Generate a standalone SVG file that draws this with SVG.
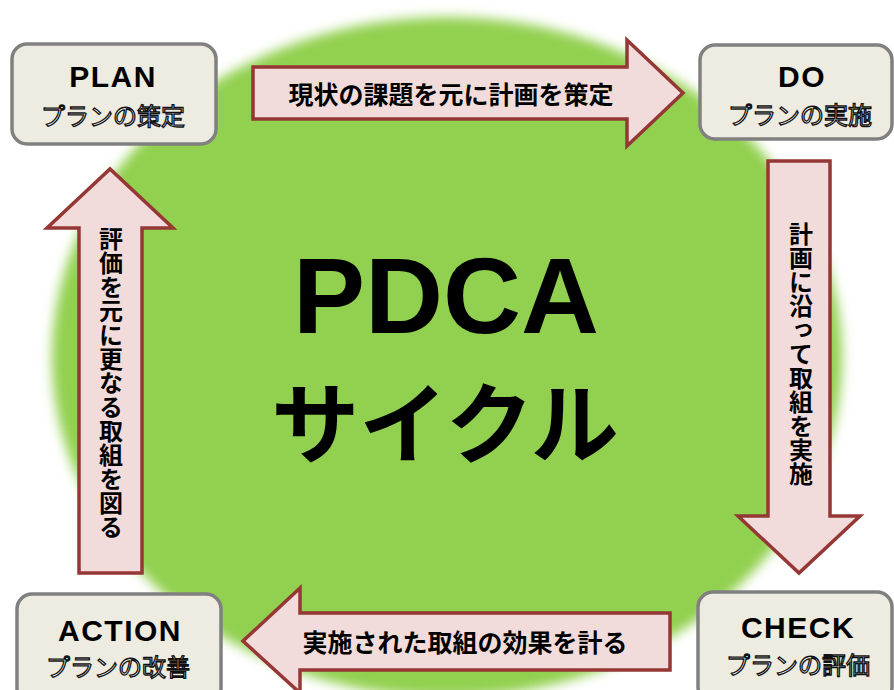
<svg xmlns="http://www.w3.org/2000/svg" width="894" height="690" viewBox="0 0 894 690">
<defs>
<filter id="soft" x="-10%" y="-10%" width="120%" height="120%"><feGaussianBlur stdDeviation="6"/></filter>
<style>
.box{fill:#eeece1;stroke:#808080;stroke-width:3.5}
.title{font-family:"Liberation Sans",Arial,sans-serif;font-weight:bold;font-size:30px;fill:#000;text-anchor:middle;letter-spacing:1.5px}
.sub{font-family:"Noto Sans CJK JP","Noto Sans",sans-serif;font-size:24px;fill:#fff;stroke:#111;stroke-width:1.3;text-anchor:middle}
.arrow{fill:#f2dcdb;stroke:#953735;stroke-width:3.5;stroke-linejoin:miter}
.lab{font-family:"Noto Sans CJK JP",sans-serif;font-weight:bold;font-size:25px;fill:#000;text-anchor:middle}
.vlab{font-family:"Noto Sans CJK JP",sans-serif;font-weight:bold;font-size:24px;fill:#000;text-anchor:middle;writing-mode:vertical-rl}
.big{font-family:"Liberation Sans",Arial,sans-serif;font-weight:bold;fill:#000;text-anchor:middle}
.bigj{font-family:"Noto Sans CJK JP",sans-serif;font-weight:bold;fill:#000;text-anchor:middle}
</style>
</defs>
<rect width="894" height="690" fill="#fff"/>
<g id="center">
<ellipse cx="447" cy="357" rx="395" ry="340" fill="#92d050" filter="url(#soft)"/>
<text class="big" x="446" y="333" font-size="108">PDCA</text>
<text class="bigj" x="445" y="456" font-size="88">サイクル</text>
</g>
<g id="connectors">
<g id="arrow-plan-do">
<path class="arrow" d="M253,67 H627 V40 L683,93 L627,146 V119 H253 Z"/>
<text class="lab" x="451" y="104">現状の課題を元に計画を策定</text>
</g>
<g id="arrow-do-check">
<path class="arrow" d="M768,161 H830 V516 H860 L799,573 L738,516 H768 Z"/>
<text class="vlab" x="801" y="354">計画に沿って取組を実施</text>
</g>
<g id="arrow-check-action">
<path class="arrow" d="M670,613 V670 H300 V693 L243,641 L300,588 V613 Z"/>
<text class="lab" x="465" y="652">実施された取組の効果を計る</text>
</g>
<g id="arrow-action-plan">
<path class="arrow" d="M79,573 V228 H47 L110,169 L173,228 H142 V573 Z"/>
<text class="vlab" x="111" y="383">評価を元に更なる取組を図る</text>
</g>
</g>
<g id="plan">
<rect class="box" x="12" y="44" width="204" height="100" rx="15"/>
<text class="title" x="113" y="87">PLAN</text>
<text class="sub" x="113" y="125">プランの策定</text>
</g>
<g id="do">
<rect class="box" x="700" y="45" width="192" height="94" rx="15"/>
<text class="title" x="802" y="87">DO</text>
<text class="sub" x="800" y="124">プランの実施</text>
</g>
<g id="action">
<rect class="box" x="17" y="594" width="204" height="110" rx="15"/>
<text class="title" x="120" y="641">ACTION</text>
<text class="sub" x="118" y="676">プランの改善</text>
</g>
<g id="check">
<rect class="box" x="698" y="592" width="194" height="110" rx="15"/>
<text class="title" x="798" y="638">CHECK</text>
<text class="sub" x="798" y="674">プランの評価</text>
</g>
</svg>
